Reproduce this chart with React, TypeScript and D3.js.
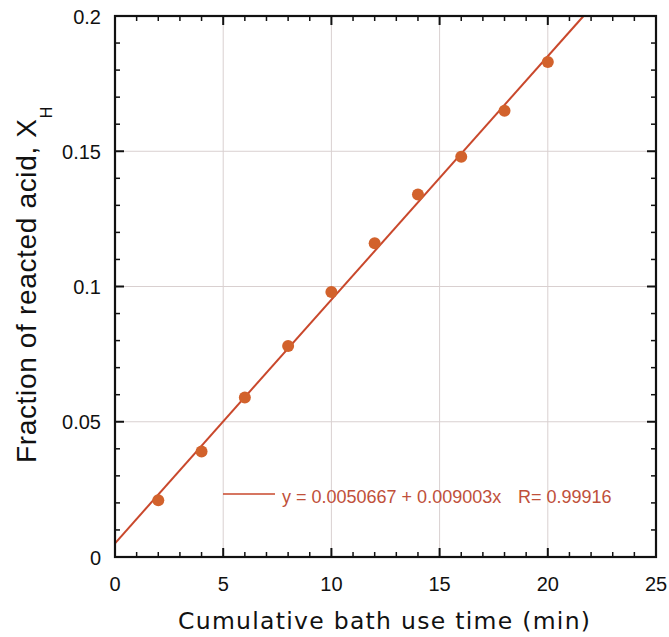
import React from "react";
import * as d3 from "d3";

const xs = [2, 4, 6, 8, 10, 12, 14, 16, 18, 20];
const ys = [0.021, 0.039, 0.059, 0.078, 0.098, 0.116, 0.134, 0.148, 0.165, 0.183];
const xTicks = [0, 5, 10, 15, 20, 25];
const yTicks = [0, 0.05, 0.1, 0.15, 0.2];
const xTickLabels = ["0", "5", "10", "15", "20", "25"];
const yTickLabels = ["0", "0.05", "0.1", "0.15", "0.2"];
const fitIntercept = 0.0050667;
const fitSlope = 0.009003;
const fitLabel = "y = 0.0050667 + 0.009003x";
const fitR = "R= 0.99916";

export default function App() {
  const W = 669, H = 637;
  const L = 115, R = 656, T = 16, B = 557;
  const x = d3.scaleLinear().domain([0, 25]).range([L, R]);
  const y = d3.scaleLinear().domain([0, 0.2]).range([B, T]);
  const xMinor = d3.range(0, 26, 1).filter((v) => v % 5 !== 0);
  const yMinor = d3.range(0, 21, 1).filter((i) => i % 5 !== 0).map((v) => v / 100);
  const xEnd = (0.2 - fitIntercept) / fitSlope;
  const line = d3.line<number>().x((d) => x(d)).y((d) => y(fitIntercept + fitSlope * d));
  const font = "Liberation Sans, Arial, Helvetica, sans-serif";
  const gridColor = "#d9d0d0";
  const axisColor = "#111";
  const major = 9, minor = 5;
  return (
    <svg width={W} height={H} style={{ position: "absolute", left: 0, top: 0 }} fontFamily={font}>
      <rect width={W} height={H} fill="#fff" />
      {xTicks.slice(1, -1).map((v) => (
        <line key={"gx" + v} x1={x(v)} x2={x(v)} y1={T} y2={B} stroke={gridColor} strokeWidth={1} />
      ))}
      {yTicks.slice(1, -1).map((v) => (
        <line key={"gy" + v} x1={L} x2={R} y1={y(v)} y2={y(v)} stroke={gridColor} strokeWidth={1} />
      ))}
      <path d={line([0, xEnd]) || ""} stroke="#c9482c" strokeWidth={2} fill="none" />
      {xs.map((v, i) => (
        <circle key={"p" + i} cx={x(v)} cy={y(ys[i])} r={6} fill="#d2622c" />
      ))}
      {xTicks.map((v) => (
        <g key={"tx" + v}>
          <line x1={x(v)} x2={x(v)} y1={B} y2={B - major} stroke={axisColor} strokeWidth={2} />
          <line x1={x(v)} x2={x(v)} y1={T} y2={T + major} stroke={axisColor} strokeWidth={2} />
        </g>
      ))}
      {xMinor.map((v) => (
        <g key={"mx" + v}>
          <line x1={x(v)} x2={x(v)} y1={B} y2={B - minor} stroke={axisColor} strokeWidth={1.5} />
          <line x1={x(v)} x2={x(v)} y1={T} y2={T + minor} stroke={axisColor} strokeWidth={1.5} />
        </g>
      ))}
      {yTicks.map((v) => (
        <g key={"ty" + v}>
          <line x1={L} x2={L + major} y1={y(v)} y2={y(v)} stroke={axisColor} strokeWidth={2} />
          <line x1={R} x2={R - major} y1={y(v)} y2={y(v)} stroke={axisColor} strokeWidth={2} />
        </g>
      ))}
      {yMinor.map((v) => (
        <g key={"my" + v}>
          <line x1={L} x2={L + minor} y1={y(v)} y2={y(v)} stroke={axisColor} strokeWidth={1.5} />
          <line x1={R} x2={R - minor} y1={y(v)} y2={y(v)} stroke={axisColor} strokeWidth={1.5} />
        </g>
      ))}
      <rect x={L} y={T} width={R - L} height={B - T} fill="none" stroke={axisColor} strokeWidth={2.2} />
      {xTicks.map((v, i) => (
        <text key={"lx" + v} x={x(v)} y={591} textAnchor="middle" fontSize={20} fill="#111">
          {xTickLabels[i]}
        </text>
      ))}
      {yTicks.map((v, i) => (
        <text key={"ly" + v} x={101} y={y(v) + 7.5} textAnchor="end" fontSize={20} fill="#111">
          {yTickLabels[i]}
        </text>
      ))}
      <line x1={223} x2={275} y1={494} y2={494} stroke="#c9482c" strokeWidth={1.5} />
      <text x={282} y={503} fontSize={18} fill="#c0503a">{fitLabel}</text>
      <text x={518} y={503} fontSize={18} fill="#c0503a">{fitR}</text>
      <text x={384} y={629} textAnchor="middle" fontSize={23.5} fill="#111"
        fontFamily="DejaVu Sans, Verdana, sans-serif" textLength={412} lengthAdjust="spacing">
        Cumulative bath use time (min)
      </text>
      <text transform={`translate(36, 463) rotate(-90)`} textAnchor="start" fill="#111">
        <tspan fontSize={28} textLength={344} lengthAdjust="spacing">Fraction of reacted acid, X</tspan>
        <tspan fontSize={16} dy={16}>H</tspan>
      </text>
    </svg>
  );
}
